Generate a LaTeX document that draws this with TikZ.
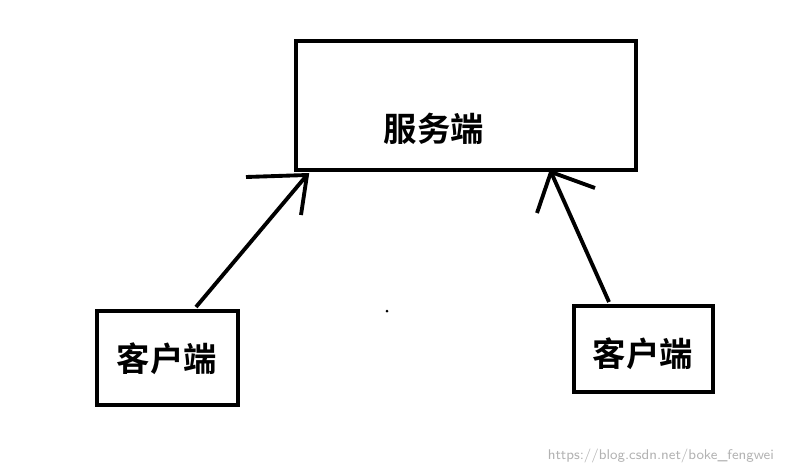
\documentclass[tikz,border=0pt]{standalone}
\usepackage{fontspec}
\newfontfamily\cjk{Noto Sans CJK SC}[BoldFont={* Bold}]
\begin{document}
\begin{tikzpicture}[x=0.02cm,y=-0.02cm,
  label/.style={font=\cjk\bfseries\fontsize{19}{22}\selectfont},
  stroke/.style={line width=2.2pt}]
  \useasboundingbox (0,0) rectangle (787,474);

  \draw[stroke] (296,41) rectangle (636,170);
  \node[label] (server) at (434,129) {服务端};

  \draw[stroke] (97,311) rectangle (238,405);
  \node[label] (clienta) at (167,359) {客户端};
  \draw[stroke] (574,306) rectangle (713,392);
  \node[label] (clientb) at (643,354) {客户端};

  \coordinate (ta) at (196,307);
  \coordinate (ha) at (307,175);
  \coordinate (tb) at (609,302);
  \coordinate (hb) at (551,172);

  \draw[stroke] (ta) -- (ha);
  \draw[stroke] (246,177) -- (ha) -- (301,215);
  \draw[stroke] (tb) -- (hb);
  \draw[stroke] (595,188) -- (hb) -- (537,213);

  \fill (387,311) circle (1.5);
  \node[text=gray!60,font=\sffamily\fontsize{8}{9}\selectfont,anchor=east] (mark) at (780,456) {https://blog.csdn.net/boke\_fengwei};
\end{tikzpicture}
\end{document}
